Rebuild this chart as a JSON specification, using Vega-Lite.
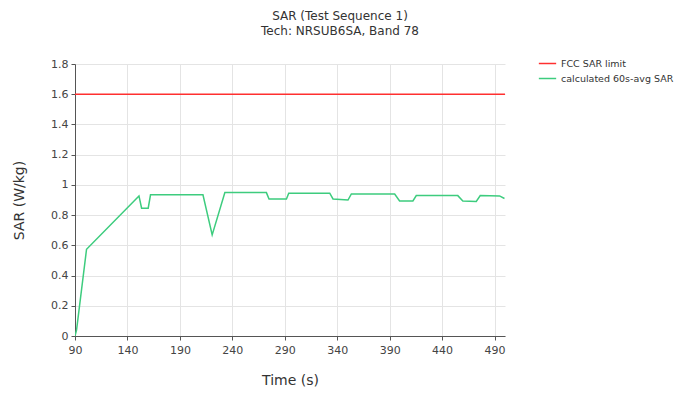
{
  "$schema": "https://vega.github.io/schema/vega-lite/v6.json",
  "width": 430,
  "height": 272,
  "autosize": "none",
  "padding": {"left": 75, "top": 64, "right": 182, "bottom": 58},
  "background": "white",
  "title": {
    "text": "SAR (Test Sequence 1)",
    "subtitle": "Tech: NRSUB6SA, Band 78",
    "anchor": "middle",
    "frame": "group",
    "dx": 50,
    "offset": 16,
    "font": "DejaVu Sans",
    "fontSize": 12,
    "fontWeight": "normal",
    "color": "#333",
    "subtitleFont": "DejaVu Sans",
    "subtitleFontSize": 12,
    "subtitleColor": "#333",
    "subtitlePadding": 3
  },
  "data": {
    "values": [
      {"series": "FCC SAR limit", "time": 90, "sar": 1.6},
      {"series": "FCC SAR limit", "time": 500, "sar": 1.6},
      {"series": "calculated 60s-avg SAR", "time": 90, "sar": 0.0},
      {"series": "calculated 60s-avg SAR", "time": 91.5, "sar": 0.04},
      {"series": "calculated 60s-avg SAR", "time": 101, "sar": 0.574},
      {"series": "calculated 60s-avg SAR", "time": 151, "sar": 0.927},
      {"series": "calculated 60s-avg SAR", "time": 153.5, "sar": 0.846},
      {"series": "calculated 60s-avg SAR", "time": 159.8, "sar": 0.846},
      {"series": "calculated 60s-avg SAR", "time": 162, "sar": 0.934},
      {"series": "calculated 60s-avg SAR", "time": 212, "sar": 0.934},
      {"series": "calculated 60s-avg SAR", "time": 220.8, "sar": 0.669},
      {"series": "calculated 60s-avg SAR", "time": 232.9, "sar": 0.949},
      {"series": "calculated 60s-avg SAR", "time": 272.5, "sar": 0.949},
      {"series": "calculated 60s-avg SAR", "time": 275, "sar": 0.906},
      {"series": "calculated 60s-avg SAR", "time": 291.6, "sar": 0.906},
      {"series": "calculated 60s-avg SAR", "time": 293.8, "sar": 0.945},
      {"series": "calculated 60s-avg SAR", "time": 332.9, "sar": 0.945},
      {"series": "calculated 60s-avg SAR", "time": 336, "sar": 0.907},
      {"series": "calculated 60s-avg SAR", "time": 350.3, "sar": 0.9},
      {"series": "calculated 60s-avg SAR", "time": 353.5, "sar": 0.94},
      {"series": "calculated 60s-avg SAR", "time": 394.8, "sar": 0.94},
      {"series": "calculated 60s-avg SAR", "time": 399.5, "sar": 0.894},
      {"series": "calculated 60s-avg SAR", "time": 412.2, "sar": 0.894},
      {"series": "calculated 60s-avg SAR", "time": 415.4, "sar": 0.929},
      {"series": "calculated 60s-avg SAR", "time": 455, "sar": 0.929},
      {"series": "calculated 60s-avg SAR", "time": 459.8, "sar": 0.894},
      {"series": "calculated 60s-avg SAR", "time": 472.6, "sar": 0.89},
      {"series": "calculated 60s-avg SAR", "time": 476.4, "sar": 0.929},
      {"series": "calculated 60s-avg SAR", "time": 494.8, "sar": 0.927},
      {"series": "calculated 60s-avg SAR", "time": 499.5, "sar": 0.91}
    ]
  },
  "mark": {"type": "line", "strokeWidth": 1.5, "clip": true},
  "encoding": {
    "x": {
      "field": "time",
      "type": "quantitative",
      "scale": {"domain": [90, 500], "nice": false, "zero": false},
      "axis": {
        "title": "Time (s)",
        "values": [90, 140, 190, 240, 290, 340, 390, 440, 490],
        "titleFont": "DejaVu Sans",
        "titleFontSize": 14,
        "titleFontWeight": "normal",
        "titleColor": "#333",
        "titlePadding": 18,
        "labelFont": "DejaVu Sans",
        "labelFontSize": 11,
        "labelColor": "#444",
        "labelPadding": 4,
        "tickSize": 4,
        "tickColor": "#555",
        "domainColor": "#555",
        "gridColor": "#e4e4e4",
        "labelFlush": false
      }
    },
    "y": {
      "field": "sar",
      "type": "quantitative",
      "scale": {"domain": [0, 1.8], "nice": false},
      "axis": {
        "title": "SAR (W/kg)",
        "values": [0, 0.2, 0.4, 0.6, 0.8, 1, 1.2, 1.4, 1.6, 1.8],
        "format": "~g",
        "titleFont": "DejaVu Sans",
        "titleFontSize": 14,
        "titleFontWeight": "normal",
        "titleColor": "#333",
        "titlePadding": 24,
        "labelFont": "DejaVu Sans",
        "labelFontSize": 11,
        "labelColor": "#444",
        "labelPadding": 3,
        "tickSize": 4,
        "tickColor": "#555",
        "domainColor": "#555",
        "gridColor": "#e4e4e4",
        "labelFlush": false
      }
    },
    "color": {
      "field": "series",
      "type": "nominal",
      "scale": {
        "domain": ["FCC SAR limit", "calculated 60s-avg SAR"],
        "range": ["#ff3030", "#3dcc7e"]
      },
      "legend": {
        "title": null,
        "orient": "none",
        "legendX": 463,
        "legendY": -10,
        "symbolType": "stroke",
        "symbolSize": 300,
        "symbolStrokeWidth": 1.5,
        "labelFont": "DejaVu Sans",
        "labelFontSize": 9.5,
        "labelColor": "#333",
        "rowPadding": 1,
        "labelOffset": 4
      }
    }
  },
  "config": {"view": {"stroke": null}}
}
